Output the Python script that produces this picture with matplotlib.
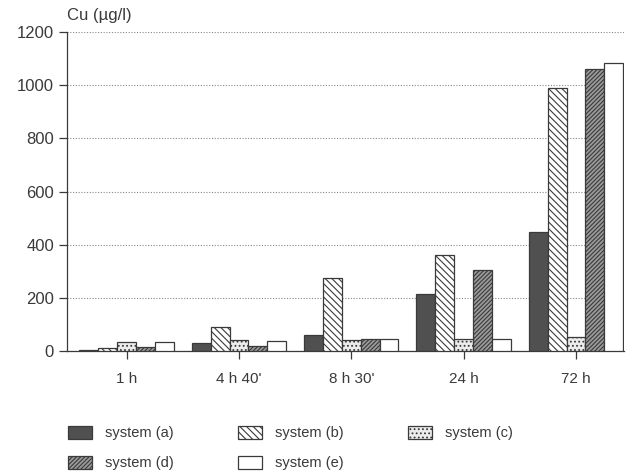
import matplotlib
matplotlib.use("Agg")
import matplotlib.pyplot as plt
import numpy as np

plt.rcParams['font.family'] = ['Liberation Sans', 'DejaVu Sans']
plt.rcParams['hatch.linewidth'] = 0.8

# data (Cu in µg/l)
times = ["1 h", "4 h 40'", "8 h 30'", "24 h", "72 h"]
sys_a = [5, 31, 60, 213, 448]
sys_b = [12, 91, 274, 361, 989]
sys_c = [35, 41, 40, 45, 51]
sys_d = [15, 20, 45, 304, 1060]
sys_e = [35, 39, 44, 44, 1083]
names = ["system (a)", "system (b)", "system (c)", "system (d)", "system (e)"]

ink = "#3a3a3a"
styles = [
    dict(facecolor="#505050", hatch=None),
    dict(facecolor="white", hatch="\\\\\\\\\\"),
    dict(facecolor="#ececec", hatch="...."),
    dict(facecolor="#9a9a9a", hatch="////////"),
    dict(facecolor="white", hatch=None),
]

fig = plt.figure(figsize=(6.39, 4.73), dpi=100)
ax = fig.add_axes([0.105, 0.258, 0.872, 0.674])

x = np.arange(len(times))
w = 0.168
series = [sys_a, sys_b, sys_c, sys_d, sys_e]
bars = []
for i, (vals, st) in enumerate(zip(series, styles)):
    b = ax.bar(x + (i - 2) * w, vals, w, facecolor=st["facecolor"],
               hatch=st["hatch"], edgecolor=ink, linewidth=0.9, label=names[i], zorder=3)
    bars.append(b)

ax.set_ylim(0, 1200)
ax.set_xlim(-0.53, 4.43)
ax.set_yticks(range(0, 1201, 200))
ax.set_xticks(x)
ax.set_xticklabels(times)
ax.yaxis.grid(True, linestyle=(0, (1, 1.5)), color="#888888", linewidth=0.8, zorder=0)
for s in ["top", "right"]:
    ax.spines[s].set_visible(False)
for s in ["left", "bottom"]:
    ax.spines[s].set_color(ink)
    ax.spines[s].set_linewidth(0.9)
ax.tick_params(axis="both", colors=ink, labelsize=12, length=6, width=0.9)
ax.tick_params(axis="x", pad=9, labelsize=11)
ax.text(0.0, 1.03, "Cu (µg/l)", transform=ax.transAxes, fontsize=12, color=ink,
        ha="left", va="bottom")

order = [0, 3, 1, 4, 2]
leg = fig.legend([bars[k] for k in order], [names[k] for k in order], ncol=3,
                 loc="upper left", bbox_to_anchor=(0.097, 0.112), frameon=False,
                 fontsize=10.5, handlelength=1.65, handleheight=1.0,
                 handletextpad=0.9, columnspacing=4.4, labelspacing=1.05,
                 borderaxespad=0)
for t in leg.get_texts():
    t.set_color(ink)

fig.savefig("out.png", dpi=100)
